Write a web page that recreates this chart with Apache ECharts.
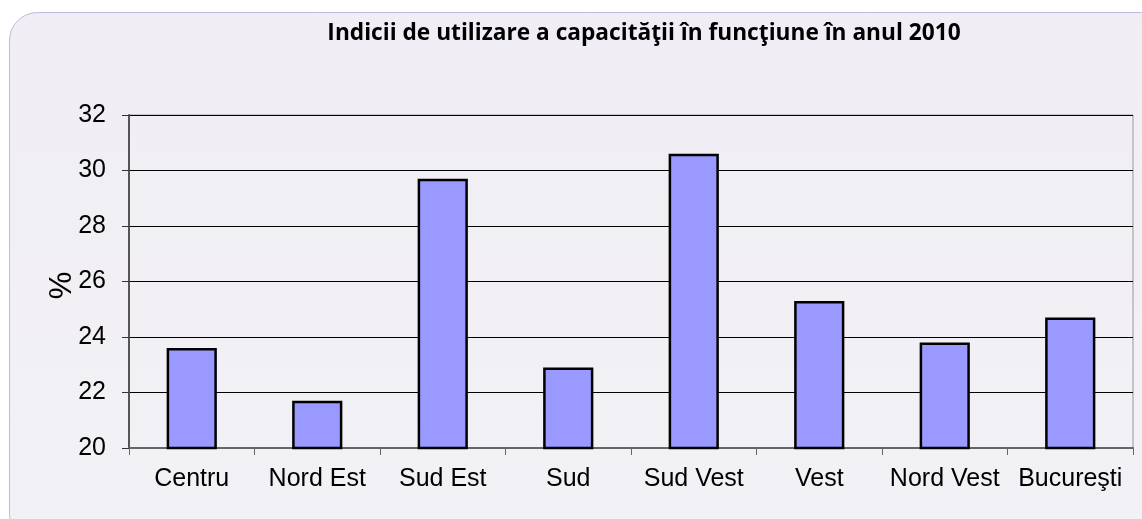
<!DOCTYPE html>
<html>
<head>
<meta charset="utf-8">
<script src="https://cdn.jsdelivr.net/npm/echarts@6/dist/echarts.min.js"></script>
<style>
  html, body { margin: 0; padding: 0; background: #fff; }
  #chart { width: 1142px; height: 519px; }
</style>
</head>
<body>
<div id="chart"></div>
<script>
const regions = ['Centru', 'Nord Est', 'Sud Est', 'Sud', 'Sud Vest', 'Vest', 'Nord Vest', 'Bucureşti']
const usage = [23.6, 21.7, 29.7, 22.9, 30.6, 25.3, 23.8, 24.7]
const titleText = 'Indicii de utilizare a capacităţii în funcţiune în anul 2010'

const myChart = echarts.init(document.getElementById('chart'))

const option = {
  animation: false,
  backgroundColor: '#fff',
  graphic: [
    {
      type: 'rect',
      silent: true,
      z: -10,
      shape: { x: 9.5, y: 12.5, width: 1160, height: 530, r: 28 },
      style: {
        fill: new echarts.graphic.LinearGradient(0, 0, 0, 1, [
          { offset: 0, color: '#f0eef4' },
          { offset: 1, color: '#f2f1f5' },
        ]),
        stroke: '#c3b8d9',
        lineWidth: 1,
      },
    },
  ],
  title: {
    text: titleText,
    left: 639,
    top: 17,
    textAlign: 'center',
    textStyle: {
      fontFamily: 'Open Sans',
      fontWeight: 'bold',
      fontSize: 22.7,
      color: '#000',
    },
  },
  grid: {
    left: 129,
    right: 9,
    top: 115,
    bottom: 71,
    show: true,
    borderColor: '#999',
    borderWidth: 1,
    backgroundColor: 'transparent',
  },
  xAxis: {
    type: 'category',
    data: regions,
    axisLine: { lineStyle: { color: '#666', width: 2 } },
    axisTick: { show: true, length: 7, lineStyle: { color: '#666' } },
    axisLabel: {
      color: '#000',
      fontFamily: 'Liberation Sans',
      fontSize: 25,
      margin: 19,
      interval: 0,
    },
  },
  yAxis: {
    type: 'value',
    min: 20,
    max: 32,
    interval: 2,
    name: '%',
    nameLocation: 'middle',
    nameGap: 51,
    nameMoveOverlap: false,
    nameRotate: 90,
    nameTextStyle: {
      color: '#000',
      fontFamily: 'Liberation Sans',
      fontSize: 31,
      padding: [0, 8, 0, 0],
    },
    axisLine: { show: true, lineStyle: { color: '#555', width: 2 } },
    axisTick: { show: true, length: 7, lineStyle: { color: '#333' } },
    axisLabel: {
      color: '#000',
      fontFamily: 'Liberation Sans',
      fontSize: 25,
      margin: 23,
    },
    splitLine: { lineStyle: { color: '#000', width: 1 } },
  },
  series: [
    {
      name: 'Indicii',
      type: 'bar',
      data: usage,
      barCategoryGap: '60%',
      itemStyle: {
        color: '#9999ff',
        borderColor: '#000',
        borderWidth: 2.5,
      },
    },
  ],
}

myChart.setOption(option)
</script>
</body>
</html>
